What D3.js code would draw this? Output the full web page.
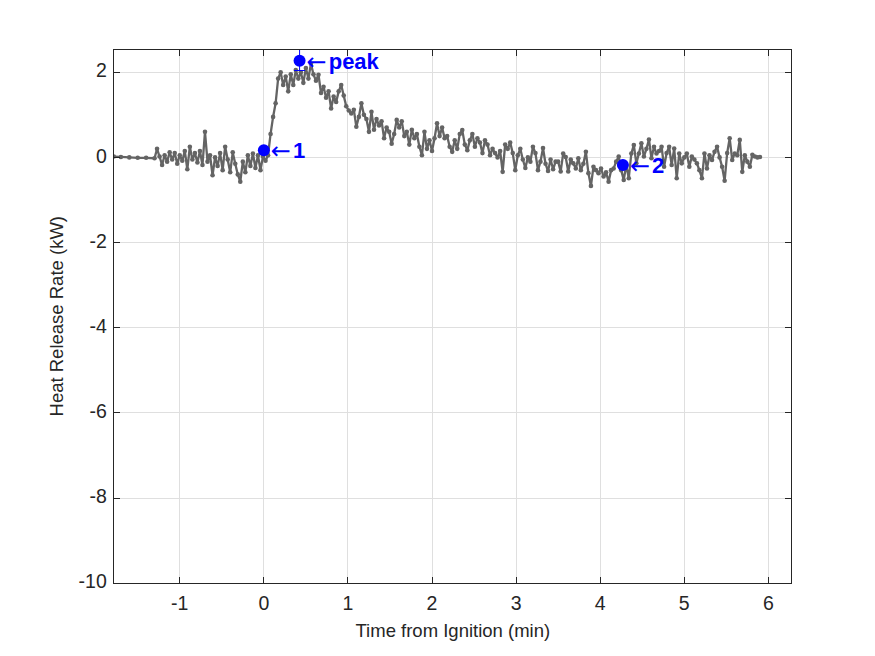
<!DOCTYPE html>
<html>
<head>
<meta charset="utf-8">
<script src="https://cdn.jsdelivr.net/npm/d3@7/dist/d3.min.js"></script>
<style>
  html, body { margin: 0; padding: 0; background: #fff; }
  svg { display: block; font-family: "Liberation Sans", Arial, Helvetica, sans-serif; }
</style>
</head>
<body>
<svg id="chart" width="875" height="656"></svg>
<script>
// ---------------- data ----------------
const timeMin = [
  -1.785, -1.70, -1.60, -1.50, -1.40,
  -1.30, -1.27, -1.24, -1.21, -1.18, -1.15, -1.12, -1.09, -1.06, -1.03,
  -1.00, -0.97, -0.94, -0.91, -0.88, -0.85, -0.82, -0.79, -0.76, -0.73,
  -0.70, -0.67, -0.64, -0.61, -0.58, -0.55, -0.52, -0.49, -0.46, -0.43,
  -0.40, -0.37, -0.34, -0.31, -0.28, -0.25, -0.22, -0.19, -0.16, -0.13,
  -0.10, -0.07, -0.04, -0.01, 0.02, 0.05, 0.08, 0.11, 0.14, 0.17,
  0.20, 0.23, 0.26, 0.29, 0.32, 0.35, 0.38, 0.41, 0.44, 0.47,
  0.50, 0.53, 0.56, 0.59, 0.62, 0.65, 0.68, 0.71, 0.74, 0.77,
  0.80, 0.83, 0.86, 0.89, 0.92, 0.95, 0.98, 1.01, 1.04, 1.07,
  1.10, 1.13, 1.16, 1.19, 1.22, 1.25, 1.28, 1.31, 1.34, 1.37,
  1.40, 1.43, 1.46, 1.49, 1.52, 1.55, 1.58, 1.61, 1.64, 1.67,
  1.70, 1.73, 1.76, 1.79, 1.82, 1.85, 1.88, 1.91, 1.94, 1.97,
  2.00, 2.03, 2.06, 2.09, 2.12, 2.15, 2.18, 2.21, 2.24, 2.27,
  2.30, 2.33, 2.36, 2.39, 2.42, 2.45, 2.48, 2.51, 2.54, 2.57,
  2.60, 2.63, 2.66, 2.69, 2.72, 2.75, 2.78, 2.81, 2.84, 2.87,
  2.90, 2.93, 2.96, 2.99, 3.02, 3.05, 3.08, 3.11, 3.14, 3.17,
  3.20, 3.23, 3.26, 3.29, 3.32, 3.35, 3.38, 3.41, 3.44, 3.47,
  3.50, 3.53, 3.56, 3.59, 3.62, 3.65, 3.68, 3.71, 3.74, 3.77,
  3.80, 3.83, 3.86, 3.89, 3.92, 3.95, 3.98, 4.01, 4.04, 4.07,
  4.10, 4.13, 4.16, 4.19, 4.22, 4.25, 4.28, 4.31, 4.34, 4.37,
  4.40, 4.43, 4.46, 4.49, 4.52, 4.55, 4.58, 4.61, 4.64, 4.67,
  4.70, 4.73, 4.76, 4.79, 4.82, 4.85, 4.88, 4.91, 4.94, 4.97,
  5.00, 5.03, 5.06, 5.09, 5.12, 5.15, 5.18, 5.21, 5.24, 5.27,
  5.30, 5.33, 5.36, 5.39, 5.42, 5.45, 5.48, 5.51, 5.54, 5.57,
  5.60, 5.63, 5.66, 5.69, 5.72, 5.75, 5.78, 5.81, 5.84, 5.87,
  5.90
];
const hrrKW = [
  0.02, 0.01, 0.00, -0.01, -0.01,
  -0.02, 0.20, 0.02, -0.18, 0.05, -0.10, 0.12, -0.05, 0.10, -0.15,
  0.05, -0.08, 0.15, -0.28, 0.25, -0.05, 0.10, -0.12, 0.15, -0.18,
  0.60, -0.10, 0.05, -0.42, 0.00, -0.20, 0.10, -0.30, 0.25, -0.05,
  -0.35, 0.12, -0.15, -0.40, -0.57, -0.10, -0.35, 0.05, -0.20, 0.09,
  -0.25, 0.05, -0.30, 0.02, -0.08, 0.05, 0.55, 0.95, 1.27, 1.85,
  2.00, 1.70, 1.90, 1.55, 1.95, 1.70, 2.05, 1.85, 2.00, 1.75,
  2.10, 1.85, 2.20, 1.95, 1.80, 1.94, 1.51, 1.66, 1.40, 1.55,
  1.15, 1.43, 1.30, 1.55, 1.70, 1.45, 1.20, 1.10, 1.03, 1.12,
  0.72, 0.95, 1.27, 1.00, 0.90, 0.60, 1.07, 0.65, 0.90, 0.75,
  0.85, 0.45, 0.70, 0.60, 0.32, 0.55, 0.88, 0.70, 0.85, 0.50,
  0.60, 0.30, 0.65, 0.45, 0.55, 0.25, 0.05, 0.60, 0.20, 0.40,
  0.15, 0.45, 0.80, 0.50, 0.70, 0.45, 0.50, 0.25, 0.13, 0.40,
  0.20, 0.55, 0.64, 0.30, 0.17, 0.40, 0.55, 0.25, 0.45, 0.35,
  0.10, 0.40, 0.30, 0.05, 0.20, 0.10, 0.00, 0.15, -0.34, 0.30,
  0.20, 0.35, 0.10, -0.30, 0.05, 0.20, -0.05, -0.25, 0.00, -0.10,
  0.25, 0.10, -0.30, -0.10, 0.22, -0.15, -0.32, -0.05, -0.28, -0.10,
  -0.10, -0.33, 0.09, 0.01, -0.33, -0.05, -0.14, -0.26, -0.02, -0.30,
  -0.15, 0.13, -0.37, -0.67, -0.22, -0.30, -0.37, -0.26, -0.45, -0.35,
  -0.57, -0.30, -0.26, -0.10, 0.02, -0.30, -0.53, -0.18, -0.49, 0.09,
  0.29, -0.14, 0.09, 0.33, 0.02, 0.20, 0.42, -0.02, 0.25, 0.09,
  0.15, 0.25, -0.22, 0.10, 0.25, -0.18, 0.21, -0.49, 0.09, -0.14,
  0.00, 0.09, -0.22, 0.02, -0.05, -0.14, -0.30, -0.49, 0.09, -0.26,
  0.05, -0.06, 0.13, 0.25, 0.00, -0.22, -0.55, 0.10, 0.45, -0.06,
  0.09, 0.05, 0.41, -0.34, 0.05, -0.10, -0.22, 0.06, 0.02, 0.00,
  0.01
];
const markLabels = ["1", "peak", "2"];
const markTimes = [0.0, 0.425, 4.27];
const markValues = [0.17, 2.27, -0.18];
const peakErrLow = [2.04];
const peakErrHigh = [2.54];
const xTicks = [-1, 0, 1, 2, 3, 4, 5, 6];
const yTicks = [-10, -8, -6, -4, -2, 0, 2];
const xDomain = [-1.785, 6.28];
const yDomain = [-10, 2.54];
const xLabel = "Time from Ignition (min)";
const yLabel = "Heat Release Rate (kW)";

// ---------------- layout ----------------
const L = 113.75, R = 791.9, T = 49.2, B = 583.3;
const svg = d3.select("#chart");
const x = d3.scaleLinear().domain(xDomain).range([L, R]);
const y = d3.scaleLinear().domain(yDomain).range([B, T]);
const axisColor = "#262626";
const fmt = d => String(d);

// grid
const grid = svg.append("g");
grid.selectAll("line.gx").data(xTicks).join("line")
  .attr("x1", d => x(d)).attr("x2", d => x(d)).attr("y1", T).attr("y2", B)
  .attr("stroke", "#dfdfdf").attr("stroke-width", 1).attr("shape-rendering", "crispEdges");
grid.selectAll("line.gy").data(yTicks).join("line")
  .attr("x1", L).attr("x2", R).attr("y1", d => y(d)).attr("y2", d => y(d))
  .attr("stroke", "#dfdfdf").attr("stroke-width", 1).attr("shape-rendering", "crispEdges");

// clip
svg.append("defs").append("clipPath").attr("id", "clip")
  .append("rect").attr("x", L).attr("y", T).attr("width", R - L).attr("height", B - T);

const data = timeMin.map((t, i) => ({ t, v: hrrKW[i] }));
const plot = svg.append("g").attr("clip-path", "url(#clip)");
plot.append("path").datum(data)
  .attr("fill", "none").attr("stroke", "#646464").attr("stroke-width", 2.3)
  .attr("stroke-linejoin", "round")
  .attr("d", d3.line().x(d => x(d.t)).y(d => y(d.v)));
plot.selectAll("circle.pt").data(data).join("circle")
  .attr("class", "pt").attr("cx", d => x(d.t)).attr("cy", d => y(d.v)).attr("r", 2.3)
  .attr("fill", "#646464");

// peak error bar
const pk = 1;
const eg = svg.append("g").attr("stroke", "#0000ff").attr("stroke-width", 1);
eg.append("line").attr("x1", x(markTimes[pk])).attr("x2", x(markTimes[pk]))
  .attr("y1", y(peakErrLow[0])).attr("y2", y(peakErrHigh[0]));
eg.append("line").attr("x1", x(markTimes[pk]) - 5.5).attr("x2", x(markTimes[pk]) + 5.5)
  .attr("y1", y(peakErrLow[0])).attr("y2", y(peakErrLow[0]));

// markers
svg.selectAll("circle.mk").data(markTimes).join("circle")
  .attr("class", "mk").attr("cx", (d) => x(d)).attr("cy", (d, i) => y(markValues[i]))
  .attr("r", 6).attr("fill", "#0000ff");

// labels
svg.selectAll("text.ml").data(markLabels).join("text")
  .attr("class", "ml")
  .attr("x", (d, i) => x(markTimes[i]) + 7)
  .attr("y", (d, i) => y(markValues[i]) + 2)
  .attr("dominant-baseline", "middle")
  .attr("fill", "#0000ff").attr("font-size", 22).attr("font-weight", "bold")
  .each(function(d) {
    const s = d3.select(this);
    s.append("tspan").attr("font-weight", "normal").attr("font-family", "DejaVu Sans")
      .attr("font-size", 24).text("\u2190");
    s.append("tspan").attr("dx", 2).text(d);
  });

// frame
svg.append("rect").attr("x", L).attr("y", T).attr("width", R - L).attr("height", B - T)
  .attr("fill", "none").attr("stroke", axisColor).attr("stroke-width", 1).attr("shape-rendering", "crispEdges");

// ticks (inside, all four sides)
const tk = svg.append("g").attr("stroke", axisColor).attr("stroke-width", 1).attr("shape-rendering", "crispEdges");
xTicks.forEach(d => {
  tk.append("line").attr("x1", x(d)).attr("x2", x(d)).attr("y1", B).attr("y2", B - 6.5);
  tk.append("line").attr("x1", x(d)).attr("x2", x(d)).attr("y1", T).attr("y2", T + 6.5);
});
yTicks.forEach(d => {
  tk.append("line").attr("x1", L).attr("x2", L + 6.5).attr("y1", y(d)).attr("y2", y(d));
  tk.append("line").attr("x1", R).attr("x2", R - 6.5).attr("y1", y(d)).attr("y2", y(d));
});

// tick labels
svg.selectAll("text.xt").data(xTicks).join("text")
  .attr("class", "xt").attr("x", d => x(d)).attr("y", B + 22)
  .attr("text-anchor", "middle").attr("dominant-baseline", "middle")
  .attr("font-size", 19.5).attr("fill", axisColor).text(fmt);
svg.selectAll("text.yt").data(yTicks).join("text")
  .attr("class", "yt").attr("x", L - 7).attr("y", d => y(d))
  .attr("text-anchor", "end").attr("dominant-baseline", "middle")
  .attr("font-size", 19.5).attr("fill", axisColor).text(fmt);

// axis labels
svg.append("text").attr("x", (L + R) / 2).attr("y", 632)
  .attr("text-anchor", "middle").attr("dominant-baseline", "middle")
  .attr("font-size", 18.5).attr("fill", axisColor).text(xLabel);
svg.append("text").attr("transform", `translate(58,${(T + B) / 2}) rotate(-90)`)
  .attr("text-anchor", "middle").attr("dominant-baseline", "middle")
  .attr("font-size", 18.5).attr("fill", axisColor).text(yLabel);
</script>
</body>
</html>
